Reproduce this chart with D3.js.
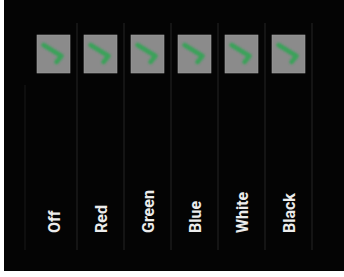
<!DOCTYPE html>
<html>
<head>
<meta charset="utf-8">
<script src="https://cdn.jsdelivr.net/npm/d3@7"></script>
<style>
  html, body { margin: 0; padding: 0; background: #fff; }
  svg { display: block; }
</style>
</head>
<body>
<svg id="chart" width="344" height="277"></svg>
<script>
// color filter options shown as swatch buttons
var categories = ["Off", "Red", "Green", "Blue", "White", "Black"];

var W = 344, H = 277;
var svg = d3.select("#chart");

var defs = svg.append("defs");
defs.append("filter")
  .attr("id", "soft")
  .attr("x", "-30%").attr("y", "-30%")
  .attr("width", "160%").attr("height", "160%")
  .append("feGaussianBlur")
  .attr("stdDeviation", 1.1);

// dark panel with thin white margin on left / bottom
svg.append("rect")
  .attr("x", 4).attr("y", 0)
  .attr("width", W - 4).attr("height", 271)
  .attr("fill", "#040404");

var x = d3.scaleBand()
  .domain(categories)
  .range([30, 312])
  .paddingInner(0)
  .paddingOuter(0);

var bw = x.bandwidth();

// faint column separators
svg.append("line")
  .attr("x1", 25).attr("x2", 25)
  .attr("y1", 85).attr("y2", 250)
  .attr("stroke", "#121212").attr("stroke-width", 1.5);

svg.selectAll(".sep")
  .data(categories)
  .enter()
  .append("line")
  .attr("class", "sep")
  .attr("x1", d => x(d) + bw)
  .attr("x2", d => x(d) + bw)
  .attr("y1", 23)
  .attr("y2", 250)
  .attr("stroke", "#1a1a1a")
  .attr("stroke-width", 1.5);

var sw = 33, sh = 38;
var cell = svg.selectAll(".cell")
  .data(categories)
  .enter()
  .append("g")
  .attr("class", "cell")
  .attr("transform", d => "translate(" + (x(d) + bw / 2) + ",0)");

// gray swatch
cell.append("rect")
  .attr("x", -sw / 2)
  .attr("y", 35)
  .attr("width", sw)
  .attr("height", sh)
  .attr("fill", "#8b8b8b")
  .attr("stroke", "#a0a0a0")
  .attr("stroke-width", 0.6);

// green chevron
cell.append("path")
  .attr("d", "M-10,45 L8,56 L3,62")
  .attr("fill", "none")
  .attr("stroke", "#27a84e")
  .attr("stroke-width", 4.5)
  .attr("stroke-linecap", "round")
  .attr("stroke-linejoin", "round")
  .attr("opacity", 0.8)
  .attr("filter", "url(#soft)");

// rotated labels
cell.append("text")
  .attr("transform", "translate(6,233) rotate(-90)")
  .attr("text-anchor", "start")
  .attr("font-family", "Roboto, sans-serif")
  .attr("font-weight", "bold")
  .attr("font-size", "16px")
  .attr("fill", "#ececec")
  .text(d => d);
</script>
</body>
</html>
